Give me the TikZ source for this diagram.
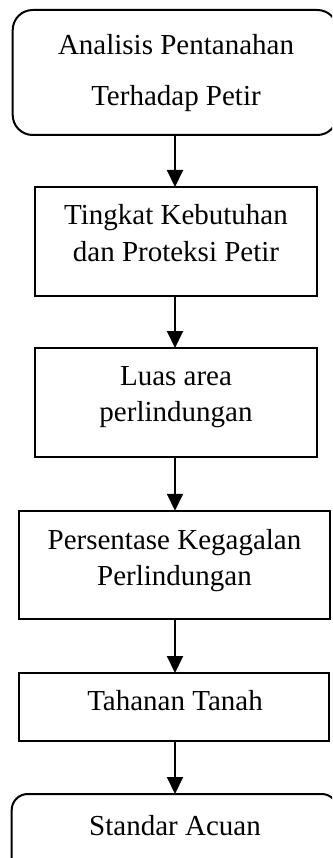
\documentclass[tikz,border=0pt]{standalone}
\usepackage{fontspec}
\setmainfont{Liberation Serif}
\usetikzlibrary{arrows.meta}

\begin{document}
\begin{tikzpicture}[x=1pt,y=-1pt,
  box/.style={draw=black,line width=2pt,inner sep=0pt,outer sep=0pt,fill=white},
  roundbox/.style={box,rounded corners=#1},
  txt/.style={anchor=base,inner sep=0pt,font=\fontsize{29}{36}\selectfont},
  flow/.style={line width=2pt,-{Triangle[length=17pt,width=16pt]}}
]
% page frame
\clip (0,0) rectangle (332,858);
\fill[white] (0,0) rectangle (332,858);

% boxes of the flow chart
\node[roundbox=20pt,minimum width=324.6pt,minimum height=125pt] (b1) at (175,72.5) {};
\node[box,minimum width=282pt,minimum height=109pt] (b2) at (176,241.5) {};
\node[box,minimum width=282pt,minimum height=109pt] (b3) at (176,402.5) {};
\node[box,minimum width=310.7pt,minimum height=108.3pt] (b4) at (174.7,564.9) {};
\node[box,minimum width=309.7pt,minimum height=68pt] (b5) at (174.2,707) {};
\node[roundbox=16pt,minimum width=326pt,minimum height=80pt] (b6) at (174.7,834) {};

% labels, one node per line, placed on their baselines
\node[txt] (t1a) at (176,55) {Analisis Pentanahan};
\node[txt] (t1b) at (176,106) {Terhadap Petir};
\node[txt] (t2a) at (176,225) {Tingkat Kebutuhan};
\node[txt] (t2b) at (176,261.5) {dan Proteksi Petir};
\node[txt] (t3a) at (176,385) {Luas area};
\node[txt] (t3b) at (176,421.5) {perlindungan};
\node[txt] (t4a) at (174.5,549) {Persentase Kegagalan};
\node[txt] (t4b) at (174.5,585) {Perlindungan};
\node[txt] (t5) at (175,710.7) {Tahanan Tanah};
\node[txt] (t6) at (175,835) {Standar Acuan};

% connectors
\draw[flow] (b1.south) -- (b1.south |- b2.north);
\draw[flow] (b1.south |- b2.south) -- (b1.south |- b3.north);
\draw[flow] (b1.south |- b3.south) -- (b1.south |- b4.north);
\draw[flow] (b1.south |- b4.south) -- (b1.south |- b5.north);
\draw[flow] (b1.south |- b5.south) -- (b1.south |- b6.north);
\end{tikzpicture}
\end{document}
